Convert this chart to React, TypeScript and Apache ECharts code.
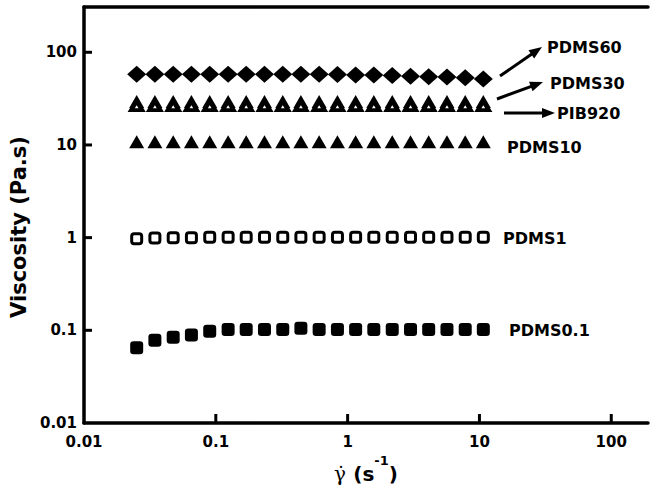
import React, { useEffect, useRef } from "react";
import * as echarts from "echarts";

const shearRate = [0.0251, 0.0345, 0.0475, 0.0653, 0.0899, 0.124, 0.170, 0.234, 0.322, 0.442, 0.608, 0.837, 1.15, 1.58, 2.18, 3.00, 4.12, 5.67, 7.80, 10.7];
const pdms60 = [58, 58, 58, 58, 58, 58, 58, 58, 58, 58, 58, 57.5, 57, 57, 56, 55, 54.5, 54, 53, 51.5];
const pdms30 = [29.4, 29.4, 29.4, 29.4, 29.4, 29.4, 29.4, 29.4, 29.4, 29.4, 29.4, 29.4, 29.4, 29.4, 29.4, 29.4, 29.4, 29.4, 29.4, 29.4];
const pib920 = [26.6, 26.6, 26.6, 26.6, 26.6, 26.6, 26.6, 26.6, 26.6, 26.6, 26.6, 26.6, 26.6, 26.6, 26.6, 26.6, 26.6, 26.6, 26.6, 26.6];
const pdms10 = [10.8, 10.8, 10.8, 10.8, 10.8, 10.8, 10.8, 10.8, 10.8, 10.8, 10.8, 10.8, 10.8, 10.8, 10.8, 10.8, 10.8, 10.8, 10.8, 10.8];
const pdms1 = [0.97, 0.99, 1.0, 1.0, 1.01, 1.01, 1.01, 1.01, 1.01, 1.01, 1.01, 1.01, 1.01, 1.01, 1.01, 1.01, 1.01, 1.01, 1.01, 1.01];
const pdms01 = [0.065, 0.078, 0.084, 0.089, 0.098, 0.102, 0.102, 0.102, 0.102, 0.105, 0.102, 0.102, 0.102, 0.102, 0.102, 0.102, 0.102, 0.102, 0.102, 0.102];

const tickValues = [0.01, 0.1, 1, 10, 100];
const tickLabels = ["0.01", "0.1", "1", "10", "100"];

const FONT = "'DejaVu Sans', 'Liberation Sans', Arial, sans-serif";

// annotation layout (pixel positions)
const seriesLabels = [
  { text: "PDMS60", x: 547, y: 47 },
  { text: "PDMS30", x: 550, y: 83 },
  { text: "PIB920", x: 557, y: 113 },
  { text: "PDMS10", x: 507, y: 147 },
  { text: "PDMS1", x: 503, y: 238 },
  { text: "PDMS0.1", x: 509, y: 330 },
];
const arrows = [
  { x1: 500, y1: 76, x2: 542, y2: 47 },
  { x1: 497, y1: 99, x2: 543, y2: 82 },
  { x1: 504, y1: 113, x2: 555, y2: 113 },
];

function arrowShapes(a: { x1: number; y1: number; x2: number; y2: number }) {
  const ang = Math.atan2(a.y2 - a.y1, a.x2 - a.x1);
  const L = 13, W = 5;
  const cx = Math.cos(ang), sy = Math.sin(ang);
  const bx = a.x2 - L * cx, by = a.y2 - L * sy;
  const px = -sy, py = cx;
  return [
    { type: "line", shape: { x1: a.x1, y1: a.y1, x2: bx + 2 * cx, y2: by + 2 * sy }, style: { stroke: "#000", lineWidth: 3 } },
    {
      type: "polygon",
      shape: { points: [[a.x2, a.y2], [bx + W * px, by + W * py], [bx - W * px, by - W * py]] },
      style: { fill: "#000" },
    },
  ];
}

function fmt(v: number) {
  const i = tickValues.findIndex((t) => Math.abs(Math.log10(t) - Math.log10(v)) < 1e-6);
  return i >= 0 ? tickLabels[i] : "";
}

function pairs(ys: number[]) {
  return shearRate.map((x, i) => [x, ys[i]]);
}

export default function App() {
  const ref = useRef<HTMLDivElement>(null);
  useEffect(() => {
    if (!ref.current) return;
    const chart = echarts.init(ref.current, null, { renderer: "svg" });
    const axisLine = { show: true, onZero: false, lineStyle: { color: "#000", width: 3.5 } };
    const axisLabel = {
      show: true,
      color: "#000",
      fontFamily: FONT,
      fontWeight: "bold",
      fontSize: 15,
      formatter: fmt,
    };

    const solid = { color: "#000", opacity: 1 };

    chart.setOption({
      animation: false,
      backgroundColor: "#fff",
      grid: { left: 84, right: 0, top: 7, bottom: 77, containLabel: false },
      xAxis: [
        {
          type: "log",
          logBase: 10,
          min: 0.01,
          max: 190,
          position: "bottom",
          axisLine,
          axisTick: { show: false },
          axisLabel: { ...axisLabel, margin: 11 },
          splitLine: { show: false },
          minorTick: { show: false },
          name: "{g|γ̇} {b|(s}{sup|-1}{b|)}",
          nameLocation: "middle",
          nameGap: 25,
          nameTextStyle: {
            rich: {
              g: { fontFamily: "'DejaVu Serif', 'Liberation Serif', serif", fontSize: 20, color: "#000", verticalAlign: "bottom", lineHeight: 30, padding: [0, 4, 0, 0] },
              b: { fontFamily: FONT, fontWeight: "bold", fontSize: 20, color: "#000", verticalAlign: "bottom", lineHeight: 30 },
              sup: { fontFamily: FONT, fontWeight: "bold", fontSize: 13, color: "#000", verticalAlign: "top", lineHeight: 14 },
            },
          },
        },
        {
          type: "log",
          logBase: 10,
          min: 0.01,
          max: 190,
          position: "top",
          axisLine,
          axisTick: { show: false },
          axisLabel: { show: false },
          splitLine: { show: false },
        },
      ],
      yAxis: {
        type: "log",
        logBase: 10,
        min: 0.01,
        max: 308,
        axisLine,
        axisTick: { show: false },
        axisLabel: { ...axisLabel, margin: 7 },
        splitLine: { show: false },
        minorTick: { show: false },
        name: "Viscosity (Pa.s)",
        nameLocation: "middle",
        nameGap: 51,
        nameTextStyle: { color: "#000", fontFamily: FONT, fontWeight: "bold", fontSize: 21, padding: [0, 24, 0, 0] },
      },
      series: [
        {
          name: "PDMS60",
          type: "scatter",
          data: pairs(pdms60),
          symbol: "diamond",
          symbolSize: [19, 17],
          itemStyle: solid,
        },
        {
          name: "PDMS30",
          type: "scatter",
          data: pairs(pdms30),
          symbol: "triangle",
          symbolSize: [15, 13],
          itemStyle: solid,
        },
        {
          name: "PIB920",
          type: "scatter",
          data: pairs(pib920),
          symbol: "triangle",
          symbolSize: [11, 9],
          itemStyle: { color: "#fff", borderColor: "#000", borderWidth: 4, opacity: 1 },
        },
        {
          name: "PDMS10",
          type: "scatter",
          data: pairs(pdms10),
          symbol: "triangle",
          symbolSize: [15, 13],
          itemStyle: solid,
        },
        {
          name: "PDMS1",
          type: "scatter",
          data: pairs(pdms1),
          symbol: "roundRect",
          symbolSize: 10,
          itemStyle: { color: "#fff", borderColor: "#000", borderWidth: 3, opacity: 1 },
        },
        {
          name: "PDMS0.1",
          type: "scatter",
          data: pairs(pdms01),
          symbol: "roundRect",
          symbolSize: 13,
          itemStyle: solid,
        },
      ],
    });

    // decade ticks (inward), positioned through the axes' own scales
    const graphic: any[] = [];
    const x0 = chart.convertToPixel({ xAxisIndex: 0 }, tickValues[0]) as number;
    const y0 = chart.convertToPixel({ yAxisIndex: 0 }, tickValues[0]) as number;
    tickValues.slice(1).forEach((v) => {
      const px = chart.convertToPixel({ xAxisIndex: 0 }, v) as number;
      graphic.push({ type: "line", z: 10, shape: { x1: px, y1: y0, x2: px, y2: y0 - 9 }, style: { stroke: "#000", lineWidth: 3 } });
      const py = chart.convertToPixel({ yAxisIndex: 0 }, v) as number;
      graphic.push({ type: "line", z: 10, shape: { x1: x0, y1: py, x2: x0 + 8, y2: py }, style: { stroke: "#000", lineWidth: 3 } });
    });
    seriesLabels.forEach((l) =>
      graphic.push({
        type: "text",
        x: l.x,
        y: l.y,
        style: { text: l.text, fill: "#000", font: `bold 16px ${FONT}`, textAlign: "left", textVerticalAlign: "middle" },
      })
    );
    arrows.forEach((a) => arrowShapes(a).forEach((s) => graphic.push(s)));
    chart.setOption({ graphic });

    return () => chart.dispose();
  }, []);
  return (
    <div
      ref={ref}
      style={{ position: "fixed", left: 0, top: 0, width: 651, height: 500, background: "#fff", overflow: "hidden" }}
    />
  );
}
